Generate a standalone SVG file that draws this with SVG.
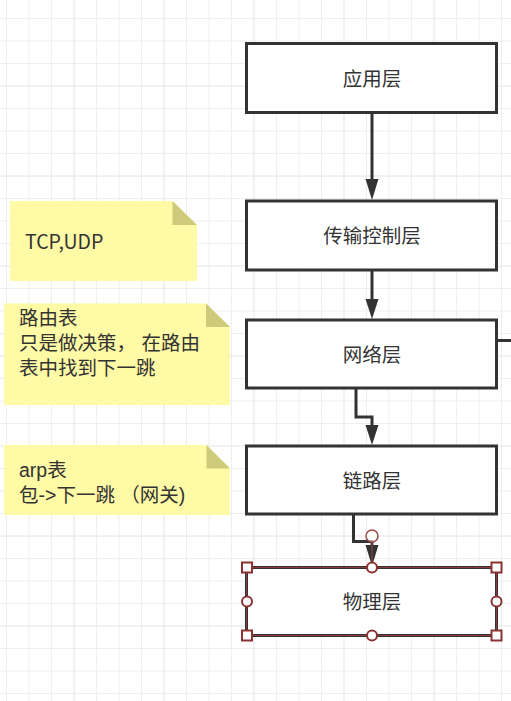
<svg xmlns="http://www.w3.org/2000/svg" width="511" height="701" viewBox="0 0 511 701">
  <style>
    .minor { stroke: #eeeeee; stroke-width: 1; fill: none; }
    .major { stroke: #e4e4e4; stroke-width: 1; fill: none; }
    .box { fill: #ffffff; stroke: #333333; stroke-width: 3; }
    .lbl { font-family: "Noto Sans CJK SC", "Noto Sans", sans-serif; font-size: 19.5px; fill: #333333; text-anchor: middle; }
    .note { fill: #fffaa5; stroke: none; }
    .fold { fill: #cdcb7a; stroke: none; }
    .ntxt { font-family: "Noto Sans CJK SC", "Noto Sans", sans-serif; font-size: 19.5px; fill: #333333; }
    .mtxt { font-family: "Liberation Sans", "Noto Sans CJK SC", sans-serif; font-size: 19.5px; fill: #333333; }
    .edge { fill: none; stroke: #333333; stroke-width: 3; }
    .head { fill: #333333; stroke: none; }
    .sel { fill: none; stroke: #8b3a3a; stroke-width: 1; }
    .hdl { fill: #ffffff; stroke: #8b3333; stroke-width: 2; }
  </style>
  <rect x="0" y="0" width="511" height="701" fill="#ffffff"/>
  <g id="grid">
    <path class="minor" d="M6.5 0V701M29 0V701M51.5 0V701M96.5 0V701M119 0V701M141.5 0V701M186.5 0V701M209 0V701M231.5 0V701M276.5 0V701M299 0V701M321.5 0V701M366.5 0V701M389 0V701M411.5 0V701M456.5 0V701M479 0V701M501.5 0V701"/>
    <path class="minor" d="M0 18.5H511M0 41H511M0 63.5H511M0 108.5H511M0 131H511M0 153.5H511M0 198.5H511M0 221H511M0 243.5H511M0 288.5H511M0 311H511M0 333.5H511M0 378.5H511M0 401H511M0 423.5H511M0 468.5H511M0 491H511M0 513.5H511M0 558.5H511M0 581H511M0 603.5H511M0 648.5H511M0 671H511M0 693.5H511"/>
    <path class="major" d="M74 0V701M164 0V701M254 0V701M344 0V701M434 0V701M0 86H511M0 176H511M0 266H511M0 356H511M0 446H511M0 536H511M0 626H511"/>
  </g>
  <g id="connectors">
    <path class="edge" d="M372 113V181"/>
    <polygon class="head" points="365.5,179 378.5,179 372,200"/>
    <path class="edge" d="M372 270V301"/>
    <polygon class="head" points="365.5,299 378.5,299 372,319"/>
    <path class="edge" d="M356 388V417H372V427"/>
    <polygon class="head" points="365.5,425 378.5,425 372,445"/>
    <path class="edge" d="M353.5 514V541.5H372V547"/>
    <polygon class="head" points="365.5,545 378.5,545 372,566"/>
    <path class="edge" d="M496.5 340.5H511"/>
  </g>
  <g id="n1">
    <rect class="box" x="246.5" y="43.5" width="250" height="69"/>
    <text class="lbl" x="372" y="86">应用层</text>
  </g>
  <g id="n2">
    <rect class="box" x="246.5" y="201" width="250" height="69"/>
    <text class="lbl" x="372" y="243">传输控制层</text>
  </g>
  <g id="n3">
    <rect class="box" x="246.5" y="320" width="250" height="68"/>
    <text class="lbl" x="372" y="361.5">网络层</text>
  </g>
  <g id="n4">
    <rect class="box" x="246.5" y="446" width="250" height="68"/>
    <text class="lbl" x="372" y="487.5">链路层</text>
  </g>
  <g id="n5">
    <rect class="box" x="246.5" y="567.5" width="250" height="68"/>
    <text class="lbl" x="372" y="609">物理层</text>
  </g>
  <g id="note1">
    <polygon class="note" points="10,201 172.5,201 197,225 197,281 10,281"/>
    <polygon class="fold" points="172.5,201 172.5,225 197,225"/>
    <text class="ntxt" x="25" y="249">TCP,UDP</text>
  </g>
  <g id="note2">
    <polygon class="note" points="4,303.5 206,303.5 230,327 230,405 4,405"/>
    <polygon class="fold" points="206,303.5 206,327 230,327"/>
    <text class="mtxt" x="19" y="325"><tspan x="19" y="325">路由表</tspan><tspan x="19" y="350">只是做决策， 在路由</tspan><tspan x="19" y="375">表中找到下一跳</tspan></text>
  </g>
  <g id="note3">
    <polygon class="note" points="4,445 206.5,445 230,468.5 230,515 4,515"/>
    <polygon class="fold" points="206.5,445 206.5,468.5 230,468.5"/>
    <text class="mtxt" x="19" y="477"><tspan x="19" y="477">arp表</tspan><tspan x="19" y="502">包-&gt;下一跳 （网关)</tspan></text>
  </g>
  <g id="selection">
    <rect class="sel" x="246.5" y="567.5" width="250" height="68"/>
    <path stroke="#a04848" stroke-width="1" d="M372 541V567"/>
    <circle cx="372" cy="536" r="6" fill="#ffffff" fill-opacity="0.6" stroke="#a04848" stroke-width="1.5"/>
    <rect class="hdl" x="242" y="562.5" width="10" height="10"/>
    <rect class="hdl" x="491.5" y="562.5" width="10" height="10"/>
    <rect class="hdl" x="242" y="630.5" width="10" height="10"/>
    <rect class="hdl" x="491.5" y="630.5" width="10" height="10"/>
    <circle class="hdl" cx="372" cy="567.5" r="5"/>
    <circle class="hdl" cx="372" cy="635.5" r="5"/>
    <circle class="hdl" cx="247" cy="601.5" r="5"/>
    <circle class="hdl" cx="496.5" cy="601.5" r="5"/>
  </g>
</svg>
